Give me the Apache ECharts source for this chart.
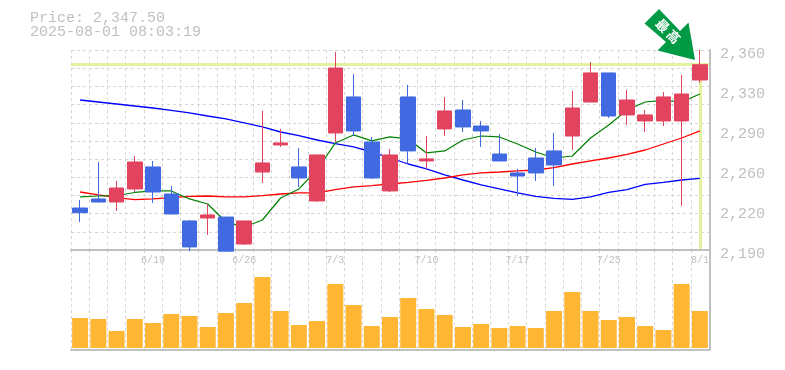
<!DOCTYPE html>
<html>
<head>
<meta charset="utf-8">
<style>
html, body { margin: 0; padding: 0; background: #fff; }
#chart { width: 785px; height: 370px; }
</style>
<script src="https://cdn.jsdelivr.net/npm/echarts@6/dist/echarts.min.js"></script>
</head>
<body>
<div id="chart"></div>
<script>
var dates = ['6/13','6/16','6/17','6/18','6/19','6/20','6/23','6/24','6/25','6/26','6/27','6/30','7/1','7/2','7/3','7/4','7/7','7/8','7/9','7/10','7/11','7/14','7/15','7/16','7/17','7/18','7/22','7/23','7/24','7/25','7/28','7/29','7/30','7/31','8/1'];
var opens = [2225.7,2233.4,2230.8,2241.9,2260.6,2237.6,2214.7,2217.2,2218,2195.1,2256.3,2279.3,2260.6,2231.7,2289.5,2320.1,2281.8,2240.2,2320.1,2265.7,2292.9,2309,2295.4,2271.6,2255.5,2268.2,2274.2,2286.9,2315.8,2340.5,2304.8,2299.7,2299.7,2299.7,2334.5];
var closes = [2221.7,2230.8,2242.7,2264.8,2239.3,2220.6,2192.6,2219.8,2189,2214.7,2264,2281,2251.2,2270.8,2344.7,2291.2,2251.2,2270.8,2274.2,2267.4,2308.2,2294.6,2291.2,2265.7,2252.9,2255.5,2262.3,2310.7,2340.5,2303.9,2317.5,2304.8,2320.1,2322.6,2347.5];
var lows = [2213.8,2230.2,2223.2,2239.3,2230,2220.6,2189,2202.8,2189,2194.3,2247,2277.6,2243.6,2230.8,2281.8,2286.9,2250.4,2239.3,2264,2258.9,2286.9,2290.3,2277.6,2265.7,2235.9,2248.7,2244.4,2275,2315.8,2302.2,2296.3,2290.3,2295.4,2227.4,2332];
var highs = [2232.5,2264.8,2248.7,2269.9,2265.7,2244.4,2215.5,2229.1,2218,2214.7,2308.2,2292.9,2276.7,2270.8,2358.3,2339.6,2286.1,2275.9,2330.3,2286.9,2320.1,2317.5,2299.7,2288.6,2258.9,2276.7,2289.5,2325.2,2349.8,2340.5,2326,2309,2324.3,2338.8,2360];
var maShort = [2235.1,2235.9,2236.3,2238.9,2240.2,2240.2,2233.4,2229.1,2213.8,2209.6,2215.5,2234.2,2241.9,2258,2281,2287.8,2282.7,2286.1,2284.4,2272.5,2274.2,2283.5,2286.9,2286.1,2280.1,2273.3,2268.2,2269.9,2285.2,2296.3,2309,2315.8,2317.1,2315.8,2322.6];
var maMid = [2239.3,2236.8,2234.6,2232.9,2233.4,2234.6,2235.5,2235.9,2235.1,2235.1,2236.3,2237.6,2238.5,2238.5,2241.4,2243.6,2244.8,2246.1,2247.4,2249.1,2251.2,2253.8,2255.5,2256.3,2257.2,2258,2260.1,2263.1,2265.7,2268.2,2271.2,2275,2280.1,2285.2,2291.2];
var maLong = [2317.5,2315.8,2314.1,2312.4,2310.7,2308.6,2306.5,2303.9,2301.4,2298,2294.6,2290.3,2287.3,2283.5,2280.5,2277.6,2273.3,2268.2,2263.1,2258.9,2253.8,2249.5,2245.3,2241.9,2238.5,2235.5,2233.8,2233.1,2235.1,2238.9,2241.4,2245.7,2247.4,2249.5,2250.8];
var volumes = [30,29,17,29,25,34,32,21,35,45,71,37,23,27,64,43,22,31,50,39,33,21,24,20,22,20,37,56,37,28,31,22,18,64,37];
var priceTicks = [2190,2224,2258,2292,2326,2360];
var priceLabels = ['2,190','2,220','2,260','2,290','2,330','2,360'];
var gridPrices = [2190,2205.45,2220.9,2236.35,2251.8,2267.25,2282.7,2298.15,2313.6,2329.05,2344.5,2360];
var lastPrice = 2347.5;

var gray = '#c0c0c0';
var dash = { color: '#d6d6d6', width: 1, type: [3, 3] };
var candles = dates.map(function (d, i) {
	return [opens[i], closes[i], lows[i], highs[i]];
});

var myChart = echarts.init(document.getElementById('chart'));
myChart.setOption({
	animation: false,
	grid: [
		{ left: 71, width: 638, top: 50, height: 200 },
		{ left: 71, width: 638, top: 250, height: 100 }
	],
	xAxis: [{
		type: 'category',
		gridIndex: 0,
		data: dates,
		axisLine: { lineStyle: { color: gray, width: 2 } },
		axisTick: { show: false },
		axisLabel: {
			margin: 5,
			color: gray,
			fontFamily: 'Liberation Mono',
			fontSize: 10,
			interval: function (i) { return i % 5 === 4; }
		},
		splitLine: { show: true, interval: 0, lineStyle: dash }
	}, {
		type: 'category',
		gridIndex: 1,
		data: dates,
		axisLine: { onZero: false, lineStyle: { color: gray, width: 2 } },
		axisTick: { show: false },
		axisLabel: { show: false },
		splitLine: { show: true, interval: 0, lineStyle: dash }
	}],
	yAxis: [{
		type: 'value',
		gridIndex: 0,
		position: 'right',
		offset: 1,
		min: 2190,
		max: 2360,
		axisLine: { show: true, lineStyle: { color: gray, width: 2 } },
		axisTick: { show: false, customValues: gridPrices },
		axisLabel: {
			customValues: priceTicks,
			margin: 10,
			color: gray,
			fontFamily: 'Liberation Mono',
			fontSize: 15,
			verticalAlign: 'top',
			lineHeight: 8,
			formatter: function (v) { return priceLabels[priceTicks.indexOf(v)]; }
		},
		splitLine: { show: true, lineStyle: dash }
	}, {
		type: 'value',
		gridIndex: 1,
		position: 'right',
		offset: 1,
		min: -2,
		max: 98,
		axisLine: { show: true, lineStyle: { color: gray, width: 2 } },
		axisTick: { show: false },
		axisLabel: { show: false },
		splitLine: { show: false }
	}],
	series: [{
		name: 'now',
		type: 'line',
		data: [],
		z: 1,
		silent: true,
		markLine: {
			z: 1,
			silent: true,
			symbol: 'none',
			label: { show: false },
			lineStyle: { color: '#e2f3a0', width: 3, type: 'solid' },
			data: [
				{ yAxis: lastPrice },
				[{ coord: [dates[dates.length - 1], lastPrice] }, { coord: [dates[dates.length - 1], 2191] }]
			]
		}
	}, {
		name: 'long',
		type: 'line',
		data: maLong,
		showSymbol: false,
		z: 2,
		lineStyle: { color: '#0000ff', width: 1.3 }
	}, {
		name: 'mid',
		type: 'line',
		data: maMid,
		showSymbol: false,
		z: 2,
		lineStyle: { color: '#ff0000', width: 1.3 }
	}, {
		name: 'short',
		type: 'line',
		data: maShort,
		showSymbol: false,
		z: 2,
		lineStyle: { color: '#008000', width: 1.2 }
	}, {
		name: 'price',
		type: 'candlestick',
		data: candles,
		barWidth: 15,
		z: 3,
		itemStyle: {
			color: '#e2435f',
			color0: '#4169e1',
			borderColor: '#e2435f',
			borderColor0: '#4169e1',
			borderWidth: 1
		}
	}, {
		name: 'volume',
		type: 'bar',
		xAxisIndex: 1,
		yAxisIndex: 1,
		data: volumes,
		barWidth: 16,
		itemStyle: { color: '#ffb733' }
	}],
	graphic: [{
		type: 'text',
		left: 30,
		top: 11,
		style: { text: 'Price: 2,347.50', fill: gray, font: '15px "Liberation Mono"' }
	}, {
		type: 'text',
		left: 30,
		top: 25,
		style: { text: '2025-08-01 08:03:19', fill: gray, font: '15px "Liberation Mono"' }
	}, {
		type: 'polygon',
		z: 10,
		shape: { points: [[644.5,23.5],[659,9],[680,31],[688.5,22.5],[695,60],[657.5,50.5],[666,42]] },
		style: { fill: '#009944' }
	}, {
		type: 'text',
		z: 11,
		x: 662.5, y: 25.5,
		rotation: -Math.PI / 4,
		style: { text: '最', fill: '#fff', font: 'bold 13px "Noto Sans CJK JP"', align: 'center', verticalAlign: 'middle' }
	}, {
		type: 'text',
		z: 11,
		x: 673.5, y: 36.5,
		rotation: -Math.PI / 4,
		style: { text: '高', fill: '#fff', font: 'bold 13px "Noto Sans CJK JP"', align: 'center', verticalAlign: 'middle' }
	}]
});
</script>
</body>
</html>
